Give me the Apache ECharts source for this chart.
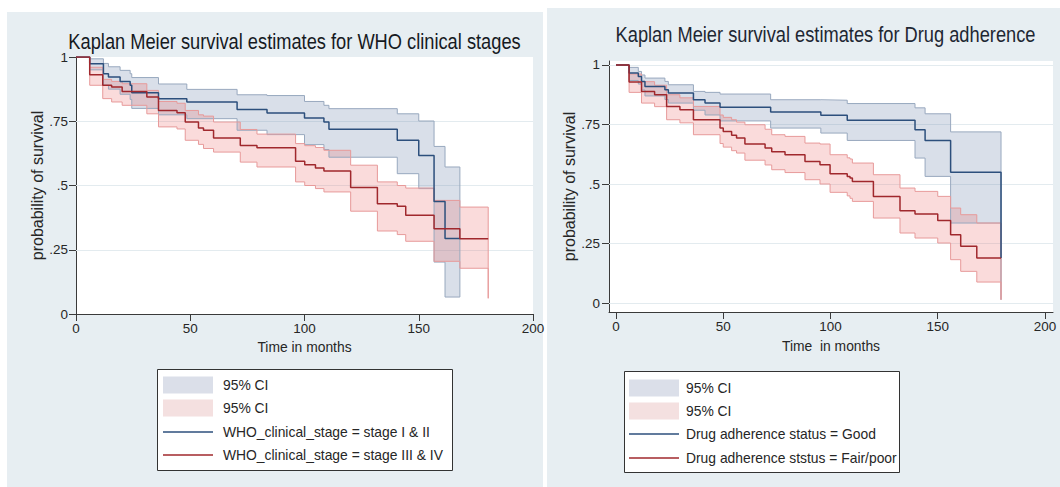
<!DOCTYPE html>
<html><head><meta charset="utf-8">
<script src="https://cdn.jsdelivr.net/npm/echarts@6/dist/echarts.min.js"></script>
<style>html,body{margin:0;padding:0;background:#fff}#c{width:1060px;height:487px}</style>
</head><body><div id="c"></div>
<script>
// ---------------- DATA ----------------
const titles = ['Kaplan Meier survival estimates for WHO clinical stages', 'Kaplan Meier survival estimates for Drug adherence'];
const xNames = ['Time in months', 'Time  in months'];
const yName = 'probability of survival';
const xTicks = [0, 50, 100, 150, 200];
const yTicks = [0, 0.25, 0.5, 0.75, 1];
const yTickLabels = ['0', '.25', '.5', '.75', '1'];
const legendLabels = {
  ciL1: '95% CI', ciL2: '95% CI',
  kmL1: 'WHO_clinical_stage = stage I & II', kmL2: 'WHO_clinical_stage = stage III & IV',
  ciR1: '95% CI', ciR2: '95% CI',
  kmR1: 'Drug adherence status = Good', kmR2: 'Drug adherence ststus = Fair/poor'
};

// Left: WHO stage I & II
const tL1  = [0, 6, 12, 14.2, 19.3, 23.7, 24.4, 36.1, 48.5, 70.5, 83.6, 100, 108.5, 110.7, 140.6, 150, 156.7, 161.5, 168];
const sL1  = [1, .974, .935, .922, .905, .89, .861, .838, .825, .796, .782, .763, .747, .719, .676, .617, .438, .294, .294];
const hiL1 = [1, .993, .975, .962, .948, .935, .92, .895, .874, .853, .85, .827, .812, .799, .779, .751, .652, .572, .066];
const loL1 = [1, .95, .89, .875, .855, .835, .80, .775, .76, .715, .698, .659, .640, .610, .546, .488, .202, .066, .066];
// Left: WHO stage III & IV
const tL2  = [0, 6, 11.7, 15.6, 20.2, 31, 36.1, 44.2, 47.8, 53.6, 55.8, 60.2, 71.9, 79.2, 96.1, 100.1, 104.8, 108.5, 120.2, 131.9, 140.6, 144.3, 156.7, 168, 180.4];
const sL2  = [1, .931, .890, .883, .866, .844, .792, .783, .747, .724, .715, .685, .656, .647, .594, .581, .568, .556, .492, .429, .419, .384, .332, .293, .293];
const hiL2 = [1, .96, .913, .905, .896, .87, .827, .82, .792, .775, .77, .747, .718, .70, .663, .655, .648, .637, .579, .514, .50, .490, .442, .416, .061];
const loL2 = [1, .89, .838, .825, .812, .779, .728, .72, .676, .66, .644, .630, .591, .572, .514, .50, .488, .475, .40, .323, .309, .283, .205, .178, .061];
// Right: adherence Good
const tR1  = [0, 6.1, 10.4, 11.9, 13.5, 22.8, 24.4, 36.1, 41.5, 48.5, 72.1, 95.5, 107.8, 139.4, 144.1, 156.0, 179.5];
const sR1  = [1, .966, .952, .931, .91, .896, .882, .854, .840, .823, .802, .789, .768, .728, .683, .549, .189];
const hiR1 = [1, .99, .973, .958, .945, .931, .917, .889, .885, .878, .854, .852, .838, .82, .795, .719, .014];
const loR1 = [1, .935, .92, .895, .87, .855, .84, .81, .79, .765, .735, .714, .683, .609, .532, .336, .014];
// Right: adherence Fair/poor
const tR2  = [0, 6.1, 11.9, 18, 23.6, 29.8, 36.1, 48.5, 50, 53.9, 56.2, 60.1, 69.5, 72.6, 78.8, 88.1, 95.1, 99.8, 107.8, 109.1, 110.2, 120, 132.4, 139.4, 150, 156, 160.7, 168.2, 179.5];
const sR2  = [1, .929, .889, .875, .826, .812, .770, .735, .721, .705, .693, .668, .651, .635, .623, .595, .581, .543, .532, .525, .511, .448, .388, .374, .347, .287, .238, .189, .189];
const hiR2 = [1, .962, .93, .915, .875, .862, .826, .79, .78, .77, .76, .749, .73, .707, .70, .672, .668, .623, .61, .605, .588, .539, .483, .469, .448, .399, .371, .336, .014];
const loR2 = [1, .885, .84, .825, .77, .757, .707, .67, .655, .64, .63, .60, .58, .56, .548, .518, .50, .465, .45, .44, .427, .357, .294, .273, .252, .182, .133, .088, .014];

// ---------------- STYLE ----------------
function hasFont(name) {
  const c = document.createElement('canvas').getContext('2d');
  const s = 'abcdefghijklmnopqrstuvwxyzABCDEFGHIJ0123456789';
  c.font = '40px monospace'; const w0 = c.measureText(s).width;
  c.font = '40px "' + name + '", monospace'; const w1 = c.measureText(s).width;
  return Math.abs(w0 - w1) > 0.5;
}
const NARROW = hasFont('Liberation Sans Narrow');
const REG = '"Liberation Sans", Arial, Helvetica, sans-serif';
const NF = NARROW ? '"Liberation Sans Narrow", ' + REG : REG;
const K = NARROW ? 1 : 0.84;
const AX = '#3a3a3a';
const TXT = '#262626';
const BLUE = '#2c4f7c', RED = '#a0282d';
const BLUE_EDGE = '#98a8be', RED_EDGE = '#e79a9a';
const BLUE_FILL = 'rgba(110,130,170,0.26)', RED_FILL = 'rgba(235,110,110,0.25)';
const BLUE_SW = '#dbdfe9', RED_SW = '#f4e0e0';
const GRIDC = '#e3ebef';

function pairs(t, v) { return t.map((x, i) => [x, v[i]]); }

// filled CI band: one step-shaped polygon built through the axes (api.coord)
function bandFill(id, ax, t, lo, hi, fill) {
  return { type: 'custom', name: id, xAxisIndex: ax, yAxisIndex: ax, silent: true, z: 2,
    data: t.map((x, i) => [x, lo[i], hi[i]]),
    encode: { x: 0, y: [1, 2] },
    renderItem: function (params, api) {
      if (params.dataIndexInside !== 0) return null;
      const n = params.dataInsideLength || t.length;
      const up = [], dn = [];
      for (let i = 0; i < n; i++) {
        const x0 = api.value(0, i), l = api.value(1, i), h = api.value(2, i);
        const x1 = i < n - 1 ? api.value(0, i + 1) : x0;
        up.push(api.coord([x0, h]), api.coord([x1, h]));
        dn.push(api.coord([x0, l]), api.coord([x1, l]));
      }
      return { type: 'polygon', shape: { points: up.concat(dn.reverse()) }, style: { fill: fill, stroke: null, lineWidth: 0 } };
    }
  };
}
function edge(name, ax, t, v, color, gridVals) {
  const s = { type: 'line', name, xAxisIndex: ax, yAxisIndex: ax, step: 'end', symbol: 'none', silent: true, z: 2,
    data: pairs(t, v), lineStyle: { color, width: 1 } };
  if (gridVals) {
    s.markLine = { silent: true, z: 1, symbol: ['none', 'none'], label: { show: false }, animation: false,
      lineStyle: { color: GRIDC, width: 1, type: 'solid' }, emphasis: { disabled: true },
      data: gridVals.map(v => ({ yAxis: v })) };
  }
  return s;
}
function band(id, ax, t, lo, hi, fill, edgeColor, gridVals) {
  return [bandFill(id, ax, t, lo, hi, fill), edge(id + '_lo', ax, t, lo, edgeColor, gridVals), edge(id + '_hi', ax, t, hi, edgeColor, null)];
}
function km(id, ax, t, s, color) {
  return { type: 'line', name: id, xAxisIndex: ax, yAxisIndex: ax, step: 'end', symbol: 'none', silent: true, z: 3,
    data: pairs(t, s), lineStyle: { color, width: 1.5 } };
}
function yLab(v) { const i = yTicks.findIndex(u => Math.abs(u - v) < 1e-9); return i >= 0 ? yTickLabels[i] : ''; }

function xAxisCfg(gi, min, max, name, nameGap, margin) {
  return { type: 'value', gridIndex: gi, min, max, name, nameLocation: 'middle', nameGap,
    nameTextStyle: { fontFamily: NF, fontSize: 16.5 * K, color: TXT },
    axisLine: { show: true, onZero: false, lineStyle: { color: AX, width: 1 } },
    axisTick: { show: true, length: 7, customValues: xTicks, lineStyle: { color: AX } },
    axisLabel: { customValues: xTicks, margin, fontFamily: NF, fontSize: 16 * K, color: TXT, hideOverlap: false },
    splitLine: { show: false } };
}
function yAxisCfg(gi, min, max, nameGap, margin) {
  return { type: 'value', gridIndex: gi, min, max, name: yName, nameLocation: 'middle', nameGap, nameRotate: 90,
    nameTextStyle: { fontFamily: REG, fontSize: 16, color: TXT },
    axisLine: { show: true, onZero: false, lineStyle: { color: AX, width: 1 } },
    axisTick: { show: true, length: 7, customValues: yTicks, lineStyle: { color: AX } },
    axisLabel: { customValues: yTicks, margin, formatter: yLab, fontFamily: NF, fontSize: 16 * K, color: TXT, hideOverlap: false },
    splitLine: { show: false } };
}
function leg(name, left, cy, isArea, color, pad) {
  return { show: true, left, top: cy - 8.5, orient: 'horizontal', padding: 0, itemGap: 0, itemWidth: 50,
    itemHeight: isArea ? 17 : 1.6, selectedMode: false,
    data: [{ name, icon: 'rect', itemStyle: { color, borderWidth: 0, opacity: 1 } }],
    formatter: n => legendLabels[n],
    textStyle: { fontFamily: NF, fontSize: 16.5 * K, color: TXT, lineHeight: 17, padding: [0, 0, 0, pad] } };
}

// right panel axis ranges extended to its plot region (axes meet at corner)
const R_XMIN = -3.263, R_XMAX = 203.73, R_YMIN = -0.0378, R_YMAX = 1.0168;
// titles: original figure's text is horizontally condensed
const TSX = NARROW ? 1 : 0.83;

const option = {
  animation: false,
  backgroundColor: '#ffffff',
  graphic: { elements: [
    { type: 'rect', z: -10, shape: { x: 7, y: 12, width: 536, height: 475 }, style: { fill: '#e7eef2' } },
    { type: 'rect', z: -10, shape: { x: 547, y: 8, width: 513, height: 479 }, style: { fill: '#e7eef2' } },
    { type: 'rect', z: 1, shape: { x: 157.5, y: 369.5, width: 295, height: 101 }, style: { fill: '#ffffff', stroke: '#333', lineWidth: 1 } },
    { type: 'rect', z: 1, shape: { x: 624.5, y: 371.5, width: 275, height: 101 }, style: { fill: '#ffffff', stroke: '#333', lineWidth: 1 } },
    { type: 'text', z: 5, x: 294.5, y: 41, scaleX: TSX, style: { text: titles[0], font: '22px ' + NF, fill: '#161a1f', align: 'center', verticalAlign: 'middle' } },
    { type: 'text', z: 5, x: 825.5, y: 34, scaleX: TSX, style: { text: titles[1], font: '22px ' + NF, fill: '#1e2733', align: 'center', verticalAlign: 'middle' } }
  ] },
  grid: [
    { left: 76, top: 57, width: 457, height: 257, show: true, backgroundColor: '#ffffff', borderWidth: 0 },
    { left: 609, top: 61, width: 444, height: 251, show: true, backgroundColor: '#ffffff', borderWidth: 0 }
  ],
  xAxis: [
    xAxisCfg(0, 0, 200, xNames[0], 25, 8),
    xAxisCfg(1, R_XMIN, R_XMAX, xNames[1], 27, 8)
  ],
  yAxis: [
    yAxisCfg(0, 0, 1, 31, 8),
    yAxisCfg(1, R_YMIN, R_YMAX, 29, 9)
  ],
  legend: [
    leg('ciL1', 163, 385, true, BLUE_SW, 5),
    leg('ciL2', 163, 408, true, RED_SW, 5),
    leg('kmL1', 163, 432, false, BLUE, 5),
    leg('kmL2', 163, 455, false, RED, 5),
    leg('ciR1', 629, 388, true, BLUE_SW, 2),
    leg('ciR2', 629, 411, true, RED_SW, 2),
    leg('kmR1', 629, 434, false, BLUE, 2),
    leg('kmR2', 629, 458, false, RED, 2)
  ],
  series: [].concat(
    band('ciL1', 0, tL1, loL1, hiL1, BLUE_FILL, BLUE_EDGE, [0.25, 0.5, 0.75]),
    band('ciL2', 0, tL2, loL2, hiL2, RED_FILL, RED_EDGE, null),
    [km('kmL1', 0, tL1, sL1, BLUE), km('kmL2', 0, tL2, sL2, RED)],
    band('ciR1', 1, tR1, loR1, hiR1, BLUE_FILL, BLUE_EDGE, yTicks),
    band('ciR2', 1, tR2, loR2, hiR2, RED_FILL, RED_EDGE, null),
    [km('kmR1', 1, tR1, sR1, BLUE), km('kmR2', 1, tR2, sR2, RED)]
  )
};

const chart = echarts.init(document.getElementById('c'), null, { renderer: 'svg', width: 1060, height: 487 });
chart.setOption(option);
</script>
</body></html>
